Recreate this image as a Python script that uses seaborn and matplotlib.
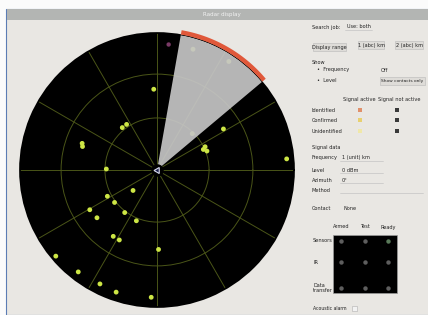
import numpy as np
import pandas as pd
import matplotlib
matplotlib.use("Agg")
import matplotlib.pyplot as plt
import seaborn as sns
from matplotlib.patches import Rectangle

# contacts on the scope: bearing (deg, counter-clockwise from east) and range (0..1)
contact_bearing = [73.4, 56.5, 92.3, 123.7, 129.3, 160.4, 162.5, 45.9, 31.7, 25.8,
                   20.8, 23.9, 4.9, 178.9, 220.5, 207.9, 217.4, 210.6, 218.5, 232.8,
                   247.9, 236.6, 241.7, 271.1, 220.4, 232.3, 243.4, 251.5, 267.4]
contact_range = [0.92, 0.95, 0.59, 0.40, 0.40, 0.58, 0.57, 0.37, 0.57, 0.39,
                 0.39, 0.37, 0.95, 0.37, 0.23, 0.41, 0.39, 0.57, 0.56, 0.39,
                 0.40, 0.58, 0.58, 0.58, 0.97, 0.94, 0.93, 0.94, 0.93]
ghost_bearing = [84.7]
ghost_range = [0.92]

sector_start = 40
sector_end = 80
ring_radii = [0.38, 0.70]
spoke_angles = list(range(0, 360, 30))

W, H = 428, 315
BODY = "#e9e7e3"
GRID = "#4a5518"
DOT = "#cde645"


def fx(x):
    return x / W


def fy(y):
    return 1 - y / H


sns.set_theme(style="white")
plt.rcParams["font.family"] = ["DejaVu Sans"]

fig = plt.figure(figsize=(W / 100, H / 100), dpi=100)
fig.patch.set_facecolor("#fbfbfb")

# window frame (kept behind the scope axes)
fig.add_artist(Rectangle((fx(6), 0), 1, fy(9), transform=fig.transFigure,
                         facecolor=BODY, edgecolor="#5b7cb4", lw=0.8, zorder=-10))
fig.add_artist(Rectangle((fx(7), fy(20)), 1, 11 / H, transform=fig.transFigure,
                         facecolor="#b3b5b3", edgecolor="none", zorder=-9))
fig.text(fx(222), fy(14.5), "Radar display", color="#f4f4f4", fontsize=4,
         ha="center", va="center")

# radar scope
ax = fig.add_axes([fx(20), fy(307), 274 / W, 274 / H], projection="polar")
ax.set_zorder(2)
ax.set_facecolor("black")
ax.spines["polar"].set_color("black")
ax.set_ylim(0, 1.0)
ax.set_thetagrids(spoke_angles, labels=[])
ax.set_rgrids(ring_radii, labels=[])
ax.grid(True, color=GRID, lw=0.7)

df = pd.DataFrame({"theta": np.deg2rad(contact_bearing), "r": contact_range})
sns.scatterplot(data=df, x="theta", y="r", ax=ax, color=DOT, s=12,
                edgecolor="none", zorder=3, legend=False)
sns.scatterplot(x=np.deg2rad(ghost_bearing), y=ghost_range, ax=ax,
                color="#7a3a66", s=10, edgecolor="none", zorder=3, legend=False)

# sweep sector and its alarm arc
mid = np.deg2rad((sector_start + sector_end) / 2)
ax.bar(mid, 1.0, width=np.deg2rad(sector_end - sector_start), bottom=0,
       color="#c6c6c6", alpha=0.92, edgecolor="none", zorder=4)
arc = np.deg2rad(np.linspace(sector_start, sector_end, 60))
ax.plot(arc, np.full_like(arc, 1.02), color="#e0583a", lw=3.2,
        solid_capstyle="butt", clip_on=False, zorder=5)

# own ship marker
ax.plot([0], [0], marker="o", ms=9, mfc="black", mec="none", zorder=6)
ax.plot([0], [0], marker=(3, 0, -30), ms=5, mfc="#1c1f4a", mec="#dadcf0",
        mew=0.8, zorder=7)
ax.set_xlabel("")
ax.set_ylabel("")


# control panel
def label(x, y, s, size=3.6, **kw):
    fig.text(fx(x), fy(y), s, fontsize=size, color="#222222", va="center", **kw)


def field(x0, x1, y):
    fig.add_artist(plt.Line2D([fx(x0), fx(x1)], [fy(y + 3), fy(y + 3)],
                              color="#c4c4c4", lw=0.5))


def button(x0, x1, y, s, size=3.6):
    fig.add_artist(Rectangle((fx(x0), fy(y + 4)), (x1 - x0) / W, 8 / H,
                             transform=fig.transFigure, facecolor="#dedcd8",
                             edgecolor="#b8b8b8", lw=0.4))
    label((x0 + x1) / 2, y, s, size=size, ha="center")


label(312, 27, "Search job:")
label(347, 27, "Use: both")
field(345, 372, 27)
button(313, 346, 47, "Display range")
button(358, 384, 45, "1 (abc) km")
button(395, 423, 45, "2 (abc) km")
label(312, 62, "Show")
label(317, 70, "•  Frequency")
label(381, 70, "Off")
label(317, 81, "•  Level")
button(380, 425, 81, "Show contacts only", size=3.2)
label(359, 100, "Signal active", ha="center")
label(399, 100, "Signal not active", ha="center")

rows = ["Identified", "Confirmed", "Unidentified"]
row_y = [110, 120, 131]
active_colors = ["#e0906a", "#e8d070", "#f0e8a8"]
for name, y, c in zip(rows, row_y, active_colors):
    label(312, y, name)
    fig.add_artist(Rectangle((fx(358), fy(y + 2)), 4 / W, 4 / H,
                             transform=fig.transFigure, facecolor=c, edgecolor="none"))
    fig.add_artist(Rectangle((fx(395), fy(y + 2)), 4 / W, 4 / H,
                             transform=fig.transFigure, facecolor="#3a3a3a", edgecolor="none"))

label(312, 148, "Signal data")
label(312, 158, "Frequency")
label(342, 158, "1 (unit) km")
field(340, 383, 158)
label(312, 170, "Level")
label(342, 170, "0 dBm")
field(340, 383, 170)
label(312, 180, "Azimuth")
label(342, 180, "0°")
field(340, 383, 180)
label(312, 190, "Method")
field(340, 423, 190)
label(312, 209, "Contact")
label(343, 209, "None")

# status matrix
status_cols = ["Armed", "Test", "Ready"]
status_rows = ["Sensors", "IR", "Data\ntransfer"]
col_x = [341, 365, 388]
srow_y = [241, 262, 288]
fig.add_artist(Rectangle((fx(333), fy(293)), 64 / W, 58 / H, transform=fig.transFigure,
                         facecolor="black", edgecolor="#9a9a9a", lw=0.5))
for cx, s in zip(col_x, status_cols):
    label(cx, 227, s, ha="center")
for ry, s in zip(srow_y, status_rows):
    label(313, ry, s, linespacing=0.9)
for ry in srow_y:
    for cx in col_x:
        c = "#5a7a5a" if (ry == srow_y[0] and cx == col_x[-1]) else "#5e5e5e"
        fig.add_artist(plt.Line2D([fx(cx)], [fy(ry)], marker="o", ms=3.2,
                                  color=c, mec="none"))

label(313, 308, "Acoustic alarm", size=3.3)
fig.add_artist(Rectangle((fx(352), fy(311)), 5 / W, 5 / H, transform=fig.transFigure,
                         facecolor="#f2f2f2", edgecolor="#b0b0b0", lw=0.4))

fig.savefig("out.png", dpi=100, facecolor=fig.get_facecolor())
